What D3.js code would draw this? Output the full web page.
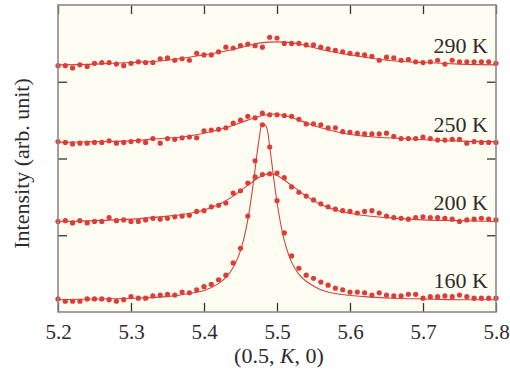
<!DOCTYPE html>
<html>
<head>
<meta charset="utf-8">
<script src="https://cdn.jsdelivr.net/npm/d3@7"></script>
<style>
  body { margin: 0; background: #fff; }
  svg text { font-family: "Liberation Serif", "Times New Roman", serif; fill: #2b2b2b; }
</style>
</head>
<body>
<svg id="chart" width="510" height="374"></svg>
<script>
// scan positions along (0.5, K, 0)
const kValues = [
  5.20, 5.21, 5.22, 5.23, 5.24, 5.25, 5.26, 5.27, 5.28, 5.29,
  5.30, 5.31, 5.32, 5.33, 5.34, 5.35, 5.36, 5.37, 5.38, 5.39,
  5.40, 5.41, 5.42, 5.43, 5.44, 5.45, 5.46, 5.47, 5.48, 5.49,
  5.50, 5.51, 5.52, 5.53, 5.54, 5.55, 5.56, 5.57, 5.58, 5.59,
  5.60, 5.61, 5.62, 5.63, 5.64, 5.65, 5.66, 5.67, 5.68, 5.69,
  5.70, 5.71, 5.72, 5.73, 5.74, 5.75, 5.76, 5.77, 5.78, 5.79, 5.80
];

const temps = ["160 K", "200 K", "250 K", "290 K"];

// measured intensity (offset per temperature)
const i160 = [
  0.17, 0.14, 0.14, 0.14, 0.17, 0.17, 0.17, 0.16, 0.14, 0.16,
  0.20, 0.18, 0.18, 0.21, 0.22, 0.23, 0.22, 0.26, 0.25, 0.29,
  0.33, 0.36, 0.42, 0.48, 0.64, 0.83, 1.25, 1.97, 2.44, 2.15,
  1.45, 1.03, 0.73, 0.57, 0.48, 0.44, 0.39, 0.35, 0.31, 0.29,
  0.26, 0.26, 0.25, 0.22, 0.25, 0.22, 0.21, 0.21, 0.23, 0.23,
  0.18, 0.20, 0.20, 0.21, 0.20, 0.22, 0.20, 0.18, 0.18, 0.18, 0.18
];
const i200 = [
  1.18, 1.19, 1.16, 1.19, 1.16, 1.18, 1.18, 1.23, 1.19, 1.20,
  1.18, 1.18, 1.20, 1.22, 1.21, 1.22, 1.24, 1.25, 1.26, 1.31,
  1.32, 1.37, 1.39, 1.42, 1.55, 1.58, 1.68, 1.76, 1.79, 1.80,
  1.81, 1.75, 1.63, 1.56, 1.51, 1.46, 1.41, 1.37, 1.34, 1.32,
  1.31, 1.29, 1.31, 1.32, 1.29, 1.25, 1.23, 1.22, 1.21, 1.23,
  1.24, 1.23, 1.23, 1.22, 1.21, 1.18, 1.20, 1.21, 1.22, 1.21, 1.20
];
const i250 = [
  2.22, 2.21, 2.19, 2.20, 2.20, 2.21, 2.21, 2.23, 2.20, 2.21,
  2.22, 2.23, 2.21, 2.26, 2.20, 2.26, 2.25, 2.27, 2.28, 2.27,
  2.36, 2.37, 2.38, 2.40, 2.46, 2.50, 2.55, 2.53, 2.59, 2.57,
  2.57, 2.56, 2.55, 2.51, 2.45, 2.45, 2.44, 2.40, 2.40, 2.35,
  2.34, 2.33, 2.32, 2.32, 2.32, 2.33, 2.29, 2.26, 2.26, 2.26,
  2.28, 2.26, 2.24, 2.24, 2.25, 2.25, 2.20, 2.22, 2.21, 2.21, 2.21
];
const i290 = [
  3.21, 3.21, 3.18, 3.22, 3.20, 3.24, 3.25, 3.25, 3.23, 3.21,
  3.24, 3.26, 3.25, 3.25, 3.30, 3.31, 3.28, 3.30, 3.28, 3.37,
  3.35, 3.35, 3.39, 3.45, 3.44, 3.47, 3.49, 3.47, 3.45, 3.58,
  3.57, 3.50, 3.50, 3.50, 3.48, 3.48, 3.45, 3.43, 3.41, 3.39,
  3.37, 3.36, 3.35, 3.33, 3.28, 3.32, 3.31, 3.28, 3.29, 3.26,
  3.25, 3.26, 3.28, 3.23, 3.28, 3.26, 3.26, 3.26, 3.26, 3.26, 3.24
];

// fitted curves, [K, intensity]
const fit160 = [
  [5.20, 0.16], [5.25, 0.17], [5.30, 0.18], [5.35, 0.20], [5.38, 0.24], [5.40, 0.28],
  [5.42, 0.37], [5.43, 0.45], [5.44, 0.58], [5.45, 0.80], [5.455, 0.97], [5.46, 1.20],
  [5.465, 1.50], [5.47, 1.86], [5.475, 2.22], [5.48, 2.45], [5.485, 2.42], [5.49, 2.15],
  [5.495, 1.78], [5.50, 1.43], [5.505, 1.15], [5.51, 0.93], [5.52, 0.65], [5.53, 0.49],
  [5.54, 0.40], [5.56, 0.29], [5.58, 0.24], [5.62, 0.20], [5.66, 0.18], [5.70, 0.17],
  [5.75, 0.16], [5.80, 0.16]
];
const fit200 = [
  [5.20, 1.18], [5.25, 1.19], [5.30, 1.21], [5.34, 1.24], [5.37, 1.27], [5.40, 1.33],
  [5.42, 1.40], [5.44, 1.51], [5.46, 1.65], [5.48, 1.78], [5.49, 1.80], [5.50, 1.78],
  [5.52, 1.65], [5.54, 1.51], [5.56, 1.40], [5.58, 1.33], [5.61, 1.27], [5.65, 1.23],
  [5.70, 1.20], [5.75, 1.19], [5.80, 1.18]
];
const fit250 = [
  [5.20, 2.21], [5.25, 2.22], [5.30, 2.23], [5.34, 2.26], [5.37, 2.28], [5.40, 2.33],
  [5.43, 2.40], [5.46, 2.50], [5.48, 2.56], [5.495, 2.58], [5.51, 2.56], [5.53, 2.50],
  [5.56, 2.40], [5.59, 2.33], [5.62, 2.29], [5.65, 2.27], [5.69, 2.25], [5.74, 2.23],
  [5.80, 2.22]
];
const fit290 = [
  [5.20, 3.22], [5.25, 3.23], [5.30, 3.25], [5.35, 3.28], [5.40, 3.35], [5.43, 3.40],
  [5.46, 3.47], [5.48, 3.51], [5.50, 3.52], [5.52, 3.51], [5.54, 3.47], [5.57, 3.40],
  [5.60, 3.35], [5.65, 3.28], [5.70, 3.25], [5.75, 3.23], [5.80, 3.22]
];

const xTicks = [5.2, 5.3, 5.4, 5.5, 5.6, 5.7, 5.8];
const yTicks = [1, 2, 3];

const W = 510, H = 374;
const margin = { top: 5, right: 14, bottom: 62, left: 58 };

const svg = d3.select('#chart');

const x = d3.scaleLinear().domain([5.2, 5.8]).range([margin.left, W - margin.right]);
const y = d3.scaleLinear().domain([0, 4]).range([H - margin.bottom, margin.top]);

const dotColor = '#dd3c38';
const lineColor = '#d04440';

// plot background
svg.append('rect')
  .attr('x', x(5.2)).attr('y', y(4))
  .attr('width', x(5.8) - x(5.2)).attr('height', y(0) - y(4))
  .attr('fill', '#fffdf2');

const series = [
  { label: temps[0], values: i160, fit: fit160 },
  { label: temps[1], values: i200, fit: fit200 },
  { label: temps[2], values: i250, fit: fit250 },
  { label: temps[3], values: i290, fit: fit290 }
];

const line = d3.line()
  .x(d => x(d[0]))
  .y(d => y(d[1]))
  .curve(d3.curveCatmullRom.alpha(0.5));

const plot = svg.append('g');

series.forEach(s => {
  plot.append('path')
    .datum(s.fit)
    .attr('d', line)
    .attr('fill', 'none')
    .attr('stroke', lineColor)
    .attr('stroke-width', 1.1);

  plot.append('g')
    .selectAll('circle')
    .data(s.values)
    .join('circle')
    .attr('cx', (d, i) => x(kValues[i]))
    .attr('cy', d => y(d))
    .attr('r', 2.6)
    .attr('fill', dotColor);

  // temperature label sits just above the right end of the curve
  svg.append('text')
    .attr('x', x(5.8) - 8)
    .attr('y', y(s.values[s.values.length - 1]) - 10)
    .attr('text-anchor', 'end')
    .style('font-size', '22px')
    .text(s.label);
});

// axes: ticks pointing inward on all four sides
const tickColor = '#333';
function styleAxis(g) {
  g.select('.domain').remove();
  g.selectAll('.tick line').attr('stroke', tickColor).attr('stroke-width', 1.3);
}

svg.append('g')
  .attr('transform', `translate(0,${y(0)})`)
  .call(d3.axisBottom(x).tickValues(xTicks).tickSize(-9).tickPadding(12).tickFormat(d3.format('.1f')))
  .call(styleAxis)
  .selectAll('text')
  .style('font-size', '21px')
  .attr('fill', '#2b2b2b');

svg.append('g')
  .attr('transform', `translate(0,${y(4)})`)
  .call(d3.axisTop(x).tickValues(xTicks).tickSize(-9).tickFormat(''))
  .call(styleAxis);

svg.append('g')
  .attr('transform', `translate(${x(5.2)},0)`)
  .call(d3.axisLeft(y).tickValues(yTicks).tickSize(-9).tickFormat(''))
  .call(styleAxis);

svg.append('g')
  .attr('transform', `translate(${x(5.8)},0)`)
  .call(d3.axisRight(y).tickValues(yTicks).tickSize(-9).tickFormat(''))
  .call(styleAxis);

// frame
svg.append('rect')
  .attr('x', x(5.2)).attr('y', y(4))
  .attr('width', x(5.8) - x(5.2)).attr('height', y(0) - y(4))
  .attr('fill', 'none')
  .attr('stroke', '#8a8a8a')
  .attr('stroke-width', 1.6);

// axis titles
const xTitle = svg.append('text')
  .attr('x', (x(5.2) + x(5.8)) / 2 + 2)
  .attr('y', 363)
  .attr('text-anchor', 'middle')
  .style('font-size', '22px');
xTitle.append('tspan').text('(0.5, ');
xTitle.append('tspan').style('font-style', 'italic').text('K');
xTitle.append('tspan').text(', 0)');

svg.append('text')
  .attr('transform', `translate(29,${(y(0) + y(4)) / 2 + 5}) rotate(-90)`)
  .attr('text-anchor', 'middle')
  .style('font-size', '22px')
  .text('Intensity (arb. unit)');
</script>
</body>
</html>
